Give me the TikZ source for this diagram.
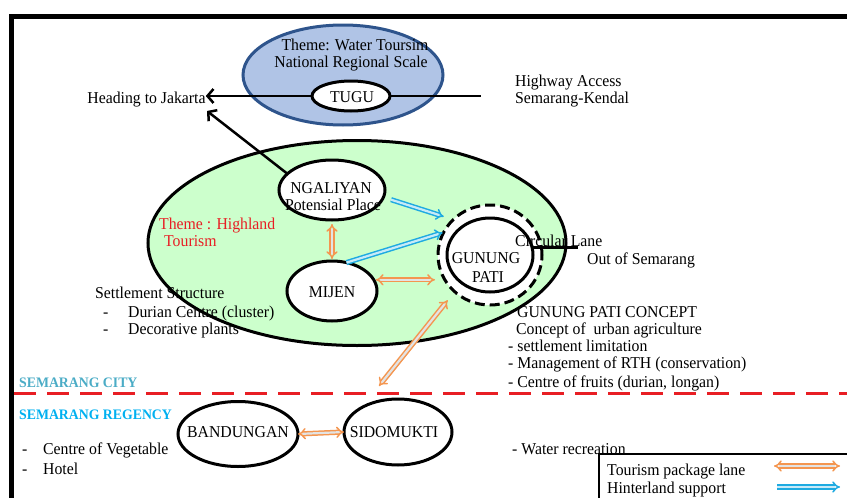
\documentclass[tikz,border=0pt]{standalone}
\usepackage{fontspec}
\setmainfont[FakeStretch=0.95]{Liberation Serif}
\usetikzlibrary{shapes.geometric,arrows.meta}
\definecolor{greenfill}{RGB}{204,255,204}
\definecolor{bluefill}{RGB}{176,196,230}
\definecolor{bluedraw}{RGB}{46,84,140}
\definecolor{orangeA}{RGB}{244,150,80}
\definecolor{cyanA}{RGB}{30,170,225}
\definecolor{redA}{RGB}{232,30,36}
\definecolor{cityblue}{RGB}{75,172,198}
\definecolor{regblue}{RGB}{0,176,240}
\begin{document}
\begin{tikzpicture}[x=1pt,y=-1pt,
  font=\fontsize{16.6}{18}\selectfont,
  ell/.style={draw, ellipse, line width=3pt, inner sep=0pt, outer sep=0pt},
  lbl/.style={inner sep=0pt, text height=0.7em, text depth=0.22em, yshift=-3pt},
  lw/.style={lbl, anchor=west},
  blackarrow/.style={line width=2.5pt, -{Straight Barb[length=6pt,width=14pt]}},
  pkg/.style={draw=orangeA, line width=1.5pt, double=white!78!gray, double distance=2.2pt, {Implies[scale=1.4]}-{Implies[scale=1.4]}},
  hint/.style={draw=cyanA, line width=1.5pt, double=cyanA!25!white, double distance=2.2pt, -{Implies[scale=1.4]}},
  region/.style={lw, font=\fontsize{14.5}{16}\selectfont\bfseries}
]
\useasboundingbox (0,0) rectangle (847,498);
% frame
\draw[line width=5pt] (860,16) -- (11,16) -- (11,510);
% big ellipses
\node[ell, draw=bluedraw, fill=bluefill, minimum width=200pt, minimum height=100pt] (blue) at (343,75) {};
\node[ell, fill=greenfill, minimum width=418pt, minimum height=205pt] (green) at (357,243) {};
% small ellipses
\node[ell, fill=white, minimum width=78pt, minimum height=30pt] (tugu) at (351,96) {};
\node[ell, fill=white, minimum width=106pt, minimum height=60pt] (ngal) at (332,190) {};
\node[ell, fill=white, minimum width=90pt, minimum height=60pt] (mij) at (332,291) {};
\node[ell, fill=white, dash pattern=on 10pt off 5pt, minimum width=104pt, minimum height=100pt] (gpo) at (490,255) {};
\node[ell, fill=white, minimum width=86pt, minimum height=74pt] (gpi) at (490,255) {};
\node[ell, fill=white, minimum width=120pt, minimum height=65pt] (band) at (238,434) {};
\node[ell, fill=white, minimum width=108pt, minimum height=66pt] (sido) at (398,432) {};
% texts
\node[lbl] (t1) at (355,45) {Theme: Water Toursim};
\node[lbl] (t2) at (351,62) {National Regional Scale};
\node[lbl] (tugut) at (352,97) {TUGU};
\node[lbl] (jak) at (146.5,98) {Heading to Jakarta};
\node[lw] (hw1) at (515,81) {Highway Access};
\node[lw] (hw2) at (515,98) {Semarang-Kendal};
\node[lbl] (ngalt1) at (331,188) {NGALIYAN};
\node[lbl] (ngalt2) at (333,205) {Potensial Place};
\node[lbl] (mijt) at (332,292) {MIJEN};
\node[lbl] (gpt1) at (486,258) {GUNUNG};
\node[lbl] (gpt2) at (488,277) {PATI};
\node[lw] (circ) at (515,241) {Circular Lane};
\node[lw] (outs) at (587,259) {Out of Semarang};
\node[lw, text=redA] (th1) at (159,224) {Theme : Highland};
\node[lw, text=redA] (th2) at (164,241) {Tourism};
\node[lw] (ss) at (95,293) {Settlement Structure};
\node[lw] (ssd1) at (103,312) {-};
\node[lw] (ss1) at (128,312) {Durian Centre (cluster)};
\node[lw] (ssd2) at (103,329) {-};
\node[lw] (ss2) at (128,329) {Decorative plants};
\node[lw] (gc) at (517,312) {GUNUNG PATI CONCEPT};
\node[lw] (gc1) at (516,329) {Concept of \ urban agriculture};
\node[lw] (gc2) at (508,346) {- settlement limitation};
\node[lw] (gc3) at (508,363) {- Management of RTH (conservation)};
\node[lw] (gc4) at (508,382) {- Centre of fruits (durian, longan)};
\node[region, text=cityblue] (city) at (19,382) {SEMARANG CITY};
\node[region, text=regblue] (reg) at (19,414) {SEMARANG REGENCY};
\node[lw] (vd1) at (22,449) {-};
\node[lw] (v1) at (43,449) {Centre of Vegetable};
\node[lw] (vd2) at (22,469) {-};
\node[lw] (v2) at (43,469) {Hotel};
\node[lbl] (bandt) at (238,432) {BANDUNGAN};
\node[lbl] (sidot) at (394,432) {SIDOMUKTI};
\node[lw] (wr) at (512,449) {- Water recreation};
% city boundary
\draw[redA, line width=3pt, dash pattern=on 22pt off 11pt] (14,393) -- (860,393);
% legend box
\draw[line width=1.5pt] (860,454) -- (599,454) -- (599,510);
\node[lw] (lg1) at (607,470) {Tourism package lane};
\node[lw] (lg2) at (607,488) {Hinterland support};
% coordinates for free ends
\coordinate (hwend) at (481,94);
\coordinate (circend) at (578,248);
\coordinate (jak2) at (207,111);
\coordinate (cityedge) at (379,386);
\coordinate (l1a) at (774,466);
\coordinate (l1b) at (840,466);
\coordinate (l2a) at (777,487);
\coordinate (l2b) at (840,487);
% black connectors
\draw[blackarrow] (tugu.west) -- (tugu.west -| jak.east);
\draw[line width=2.5pt] (tugu.east) -- (tugu.east -| hwend);
\draw[blackarrow] (ngal.160) -- (jak2);
\draw[line width=2.5pt] (gpi.10) -- (gpi.10 -| circend);
% tourism package lanes
\draw[pkg, shorten <=4pt, shorten >=2pt] (ngal.south) -- (mij.north);
\draw[pkg, shorten <=2pt, shorten >=3pt] (mij.15) -- (mij.15 -| gpo.west);
\draw[pkg, shorten <=11pt] (gpo.226) -- (cityedge);
\draw[pkg] (band.east) -- (sido.west);
% hinterland support
\draw[hint, shorten <=8pt, shorten >=10pt] (ngal.-8) -- (gpo.136);
\draw[hint, shorten >=1pt] (mij.63) -- (gpo.154);
% legend arrows
\draw[pkg] (l1a) -- (l1b);
\draw[hint] (l2a) -- (l2b);
\end{tikzpicture}
\end{document}
